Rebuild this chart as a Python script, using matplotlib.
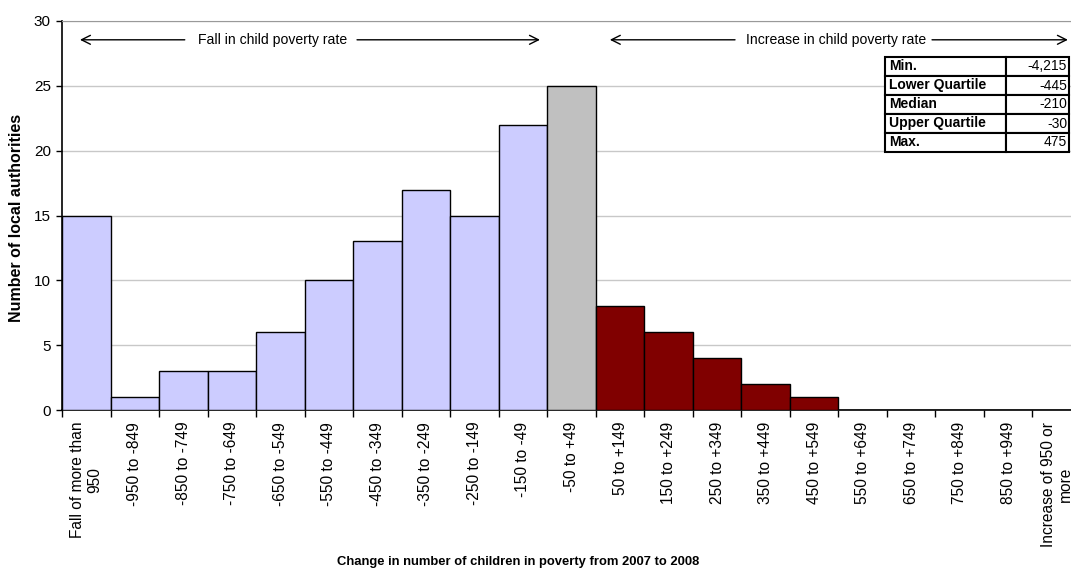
import numpy as np
import matplotlib
matplotlib.use("Agg")
import matplotlib.pyplot as plt

############################################
# data
############################################

categories = [
    "Fall of more than\n950", "-950 to -849", "-850 to -749", "-750 to -649",
    "-650 to -549", "-550 to -449", "-450 to -349", "-350 to -249",
    "-250 to -149", "-150 to -49", "-50 to +49", "50 to +149",
    "150 to +249", "250 to +349", "350 to +449", "450 to +549",
    "550 to +649", "650 to +749", "750 to +849", "850 to +949",
    "Increase of 950 or\nmore",
]
counts = [15, 1, 3, 3, 6, 10, 13, 17, 15, 22, 25, 8, 6, 4, 2, 1, 0, 0, 0, 0, 0]

stat_names = ["Min.", "Lower Quartile", "Median", "Upper Quartile", "Max."]
stat_values = ["-4,215", "-445", "-210", "-30", "475"]

fall_col = "#CCCCFF"
mid_col = "#C0C0C0"
rise_col = "#800000"

############################################
# plot
############################################

plt.rcParams['font.family'] = ['Liberation Sans', 'DejaVu Sans']

W, H = 1071, 569
fig = plt.figure(figsize=(W / 100, H / 100), dpi=100)

# plot area in pixels: x 62..1081 (last category runs off the edge), y 21..410
ax_l, ax_r, ax_t, ax_b = 62, 1081, 21, 410
ax = fig.add_axes([ax_l / W, 1 - ax_b / H, (ax_r - ax_l) / W, (ax_b - ax_t) / H])

n = len(categories)
x = np.arange(n)
colours = [fall_col] * 10 + [mid_col] + [rise_col] * (n - 11)

ax.bar(x, counts, width=1.0, color=colours, edgecolor="black", linewidth=1.0, zorder=3)

ax.set_xlim(-0.5, n - 0.5)
ax.set_ylim(0, 30)
ax.set_yticks(range(0, 31, 5))
ax.tick_params(axis="y", direction="out", length=4, labelsize=11, width=1, pad=4)

ax.set_xticks(x)
ax.set_xticklabels(categories, rotation=90, fontsize=11.2, ha="center", va="top",
                   multialignment="center")
ax.set_xticks(np.arange(-0.5, n, 1), minor=True)
ax.tick_params(axis="x", which="major", length=0, pad=8.5)
ax.tick_params(axis="x", which="minor", direction="out", length=5, width=1)

ax.grid(axis="y", color="#C8C8C8", linewidth=1, zorder=0)
ax.spines["right"].set_visible(False)
ax.spines["top"].set_color("#999999")
ax.spines["left"].set_linewidth(1.2)
ax.spines["bottom"].set_linewidth(1.2)

fig.text(17 / W, 1 - 218 / H, "Number of local authorities", rotation=90,
         ha="center", va="center", fontsize=11.5, fontweight="bold")
fig.text(518 / W, 1 - 562 / H, "Change in number of children in poverty from 2007 to 2008",
         ha="center", va="center", fontsize=9.4, fontweight="bold")

# arrows with labels
ya = 28.55
arrow = dict(arrowstyle="->", color="black", lw=1, shrinkA=0, shrinkB=0,
             mutation_scale=16)
ax.annotate("", xy=(-0.13, ya), xytext=(2.03, ya), arrowprops=arrow)
ax.text(3.84, ya, "Fall in child poverty rate", ha="center", va="center", fontsize=10.1)
ax.annotate("", xy=(9.35, ya), xytext=(5.58, ya), arrowprops=arrow)

ax.annotate("", xy=(10.79, ya), xytext=(13.37, ya), arrowprops=arrow)
ax.text(15.45, ya, "Increase in child poverty rate", ha="center", va="center", fontsize=10.1)
ax.annotate("", xy=(20.23, ya), xytext=(17.43, ya), arrowprops=arrow)

# summary table
tb_l, tb_r, tb_t, tb_b = 885, 1069, 57, 152
fx = lambda px: (px - ax_l) / (ax_r - ax_l)
fy = lambda py: (ax_b - py) / (ax_b - ax_t)
cell_text = [[a, b] for a, b in zip(stat_names, stat_values)]
tbl = ax.table(cellText=cell_text, cellLoc="left",
               bbox=[fx(tb_l), fy(tb_b), fx(tb_r) - fx(tb_l), fy(tb_t) - fy(tb_b)],
               colWidths=[121, 63], zorder=5)
tbl.auto_set_font_size(False)
for (r, c), cell in tbl.get_celld().items():
    cell.set_linewidth(1.5)
    cell.set_edgecolor("black")
    cell.set_facecolor("white")
    cell.PAD = 0.03
    t = cell.get_text()
    t.set_fontsize(10)
    if c == 0:
        t.set_fontweight("bold")
        t.set_ha("left")
        cell._loc = "left"
    else:
        t.set_ha("right")
        cell._loc = "right"

fig.savefig("out.png", dpi=100)
